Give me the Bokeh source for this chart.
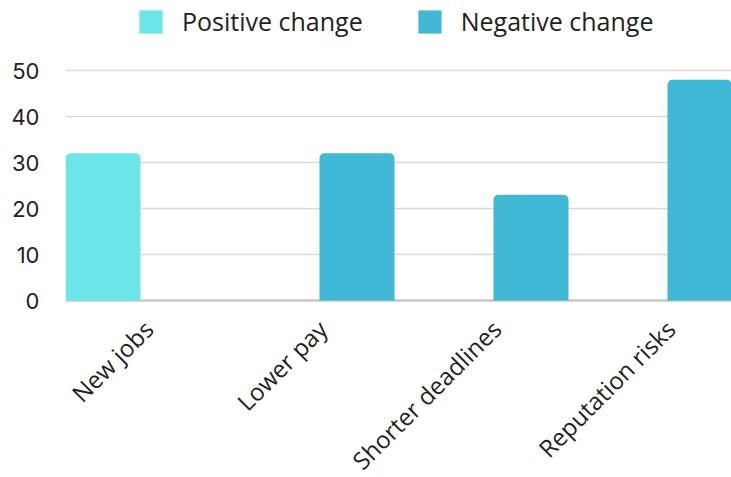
import math
from bokeh.plotting import figure
from bokeh.models import Range1d, FixedTicker, Legend, LegendItem, Span, ColumnDataSource
from bokeh.core.properties import value
from bokeh.embed import file_html
from bokeh.resources import INLINE

categories = ["New jobs", "Lower pay", "Shorter deadlines", "Reputation risks"]
positive = [32, 0, 0, 0]
negative = [0, 32, 23, 48]
series_names = ["Positive change", "Negative change"]
y_ticks = [0, 10, 20, 30, 40, 50]

POS_COLOR = "#6CE5E8"
NEG_COLOR = "#41B8D5"

# layout (category width = 1 data unit, 174 px); 4.6 px per y unit
bar_w = 75 / 174
pos_off = 37.5 / 174
neg_off = (80 + 37.5) / 174

idx = list(range(len(categories)))
src = ColumnDataSource(dict(
    xp=[i + pos_off for i in idx],
    xn=[i + neg_off for i in idx],
    xc=[i + 0.5 for i in idx],
    y0=[0] * len(idx),
    cat=categories,
    pos=positive,
    neg=negative,
))

p = figure(width=731, height=477, output_backend="svg", toolbar_location=None,
           x_axis_location=None,
           x_range=Range1d(0, 666 / 174), y_range=Range1d(-177 / 4.6, 300 / 4.6))
p.min_border_left = 65
p.min_border_right = 0
p.min_border_top = 0
p.min_border_bottom = 0
p.outline_line_color = None
p.background_fill_color = "white"
p.border_fill_color = "white"

p.add_layout(Span(location=0, dimension="width", line_color="#c8c8c8",
                  line_width=2.5, level="underlay"))

r_pos = p.vbar(x="xp", top="pos", bottom=0, width=bar_w, source=src,
               fill_color=POS_COLOR, line_color=None, border_radius=(5, 5, 0, 0))
r_neg = p.vbar(x="xn", top="neg", bottom=0, width=bar_w, source=src,
               fill_color=NEG_COLOR, line_color=None, border_radius=(5, 5, 0, 0))

# category labels (rotated 45 degrees under each category)
p.text(x="xc", y="y0", text="cat", source=src, angle=math.pi / 4,
       text_align="right", text_baseline="middle", x_offset=-4, y_offset=24,
       text_font=value("Open Sans"), text_font_size="24px", text_color="#222222")

# y axis / grid
p.xgrid.visible = False
p.ygrid.grid_line_color = "#d9d9d9"
p.ygrid.grid_line_width = 1.6
p.yaxis.ticker = FixedTicker(ticks=y_ticks)
p.ygrid.ticker = FixedTicker(ticks=y_ticks[1:])
p.yaxis.axis_line_color = None
p.yaxis.major_tick_line_color = None
p.yaxis.minor_tick_line_color = None
p.yaxis.major_tick_out = 0
p.yaxis.major_label_standoff = 26
p.yaxis.major_label_text_font = "Inter"
p.yaxis.major_label_text_font_size = "22px"
p.yaxis.major_label_text_color = "#222222"

legend = Legend(items=[LegendItem(label=series_names[0], renderers=[r_pos]),
                       LegendItem(label=series_names[1], renderers=[r_neg])],
                orientation="horizontal", location=(71, 477 - 38))
legend.glyph_width = 29
legend.glyph_height = 29
legend.label_height = 29
legend.label_standoff = 17
legend.spacing = 52
legend.padding = 0
legend.margin = 0
legend.border_line_color = None
legend.background_fill_alpha = 0
legend.label_text_font = "Open Sans"
legend.label_text_font_size = "25px"
legend.label_text_color = "#222222"
p.add_layout(legend)

open("out.html", "w").write(file_html(p, INLINE))
